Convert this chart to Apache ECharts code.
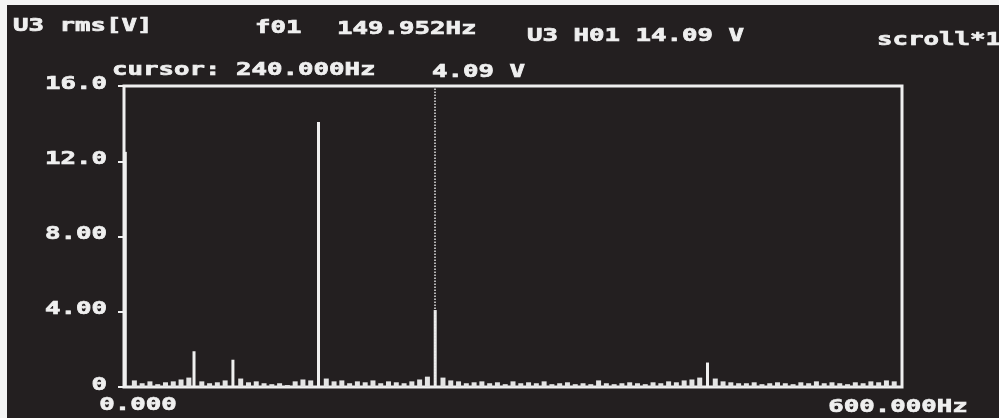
<!DOCTYPE html>
<html>
<head>
<meta charset="utf-8">
<script src="https://cdn.jsdelivr.net/npm/echarts@6/dist/echarts.min.js"></script>
<style>
  html, body { margin: 0; padding: 0; background: #231f20; }
  #chart { width: 999px; height: 418px; }
</style>
</head>
<body>
<div id="chart"></div>
<script>
// Harmonic spectrum of U3 (rms, volts) from 0 to 600 Hz
const harmonicFreqs = [1, 54, 84, 150, 240, 450];
const harmonicVolts = [12.5, 1.9, 1.45, 14.09, 4.09, 1.3];

// Low-level noise floor along the spectrum
const noiseFreqs = [8, 14, 20, 26, 32, 38, 44, 50, 60, 66, 72, 78, 90, 96, 102, 108, 114, 120, 126, 132, 138, 144,
  156, 162, 168, 174, 180, 186, 192, 198, 204, 210, 216, 222, 228, 234, 246, 252, 258, 264, 270, 276, 282, 288,
  294, 300, 306, 312, 318, 324, 330, 336, 342, 348, 354, 360, 366, 372, 378, 384, 390, 396, 402, 408, 414, 420,
  426, 432, 438, 444, 456, 462, 468, 474, 480, 486, 492, 498, 504, 510, 516, 522, 528, 534, 540, 546, 552, 558,
  564, 570, 576, 582, 588, 594];
const noiseVolts = [0.35, 0.2, 0.3, 0.15, 0.25, 0.3, 0.4, 0.5, 0.3, 0.2, 0.25, 0.35, 0.45, 0.25, 0.3, 0.2, 0.15,
  0.2, 0.1, 0.3, 0.4, 0.35, 0.45, 0.3, 0.35, 0.2, 0.3, 0.25, 0.35, 0.2, 0.3, 0.25, 0.2, 0.3, 0.4, 0.55, 0.5, 0.35,
  0.3, 0.2, 0.25, 0.3, 0.2, 0.25, 0.15, 0.3, 0.2, 0.25, 0.2, 0.3, 0.15, 0.2, 0.25, 0.15, 0.2, 0.15, 0.35, 0.2,
  0.15, 0.2, 0.25, 0.2, 0.15, 0.25, 0.2, 0.3, 0.25, 0.35, 0.4, 0.5, 0.45, 0.3, 0.25, 0.2, 0.2, 0.25, 0.15, 0.2,
  0.25, 0.2, 0.15, 0.25, 0.2, 0.3, 0.2, 0.25, 0.2, 0.15, 0.25, 0.2, 0.3, 0.25, 0.35, 0.3];

const cursorFreq = 240;
const yTickValues = [0, 4, 8, 12, 16];
const yTickLabels = ['0', '4.00', '8.00', '12.0', '16.0'];
const xRangeValues = [0, 600];
const xRangeLabels = ['0.000', '600.000Hz'];

// Header readouts: [text, left x, centre y]
const headerTexts = [
  ['U3 rms[V]', 13, 26],
  ['f01', 255, 28],
  ['149.952Hz', 337, 29],
  ['U3 H01 14.09 V', 527, 36],
  ['scroll*1', 877, 40],
  ['cursor: 240.000Hz', 112, 70],
  ['4.09 V', 432, 72]
];

const FG = '#efefef';
const BG = '#231f20';

const chart = echarts.init(document.getElementById('chart'), null, { renderer: 'canvas' });

const harmonics = harmonicFreqs.map((f, i) => [f, harmonicVolts[i]]);
const noise = noiseFreqs.map((f, i) => [f, noiseVolts[i]]);

const freqAxis = (show) => ({
  type: 'value', min: xRangeValues[0], max: xRangeValues[1], show: show,
  axisLine: { show: false }, axisTick: { show: false },
  axisLabel: { show: false }, splitLine: { show: false }
});

chart.setOption({
  backgroundColor: BG,
  animation: false,
  grid: {
    left: 124, right: 97, top: 86, bottom: 31,
    show: true, borderColor: FG, borderWidth: 3, backgroundColor: 'transparent'
  },
  xAxis: [freqAxis(true), freqAxis(false)],
  yAxis: {
    type: 'value', min: 0, max: 16, interval: 4,
    axisLine: { show: false },
    axisTick: { show: true, length: 6, lineStyle: { color: FG, width: 2 } },
    axisLabel: { show: false }, splitLine: { show: false }
  },
  series: [{
    name: 'noise',
    type: 'bar',
    xAxisIndex: 1,
    data: noise,
    barWidth: 5,
    itemStyle: { color: '#e4e4e4' }
  }, {
    name: 'harmonics',
    type: 'bar',
    xAxisIndex: 0,
    data: harmonics,
    barWidth: 3,
    itemStyle: { color: FG },
    markLine: {
      silent: true,
      symbol: ['none', 'none'],
      label: { show: false },
      lineStyle: { type: 'dotted', color: '#e6e6e6', width: 1.5 },
      data: [{ xAxis: cursorFreq }]
    }
  }]
});

// Wide, heavy LCD-style readout text
function lcdText(str, x, y, align) {
  return {
    type: 'text', x: x, y: y, scaleX: 1.43, z: 10,
    style: {
      text: str, fill: FG, stroke: FG, lineWidth: 0.7,
      fontFamily: 'DejaVu Sans Mono', fontWeight: 'bold', fontSize: 18,
      align: align, verticalAlign: 'middle',
      textAlign: align, textVerticalAlign: 'middle'
    }
  };
}

const graphics = [
  { type: 'rect', shape: { x: 0, y: 0, width: 999, height: 5 }, style: { fill: '#f4f4f4' }, z: 20 },
  { type: 'rect', shape: { x: 0, y: 0, width: 7, height: 418 }, style: { fill: '#f4f4f4' }, z: 20 }
];

headerTexts.forEach(t => graphics.push(lcdText(t[0], t[1], t[2], 'left')));

const axisLeft = chart.convertToPixel({ xAxisIndex: 0 }, 0);
yTickValues.forEach((v, i) => {
  const py = chart.convertToPixel({ yAxisIndex: 0 }, v);
  graphics.push(lcdText(yTickLabels[i], axisLeft - 17, py - 2, 'right'));
});

const x0 = chart.convertToPixel({ xAxisIndex: 0 }, xRangeValues[0]);
const x1 = chart.convertToPixel({ xAxisIndex: 0 }, xRangeValues[1]);
const yBase = chart.convertToPixel({ yAxisIndex: 0 }, 0);
graphics.push(lcdText(xRangeLabels[0], x0 + 14, yBase + 18, 'center'));
graphics.push(lcdText(xRangeLabels[1], x1 - 4, yBase + 20, 'center'));

chart.setOption({ graphic: graphics });
</script>
</body>
</html>
